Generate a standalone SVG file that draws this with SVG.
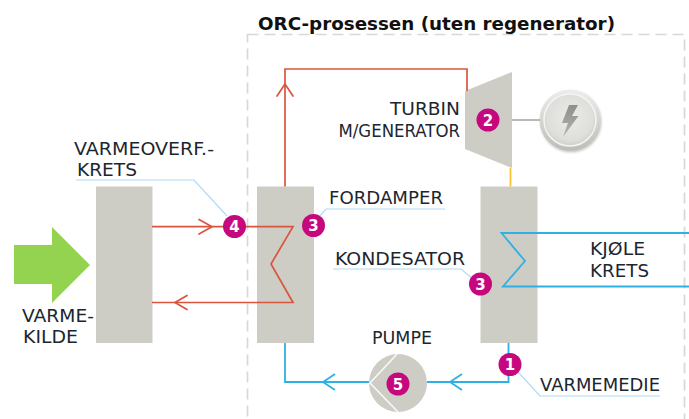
<svg xmlns="http://www.w3.org/2000/svg" width="689" height="419" viewBox="0 0 689 419">
<defs>
<radialGradient id="g" cx="0.5" cy="0.45" r="0.55"><stop offset="0" stop-color="#ebebe8"/><stop offset="0.8" stop-color="#dededb"/><stop offset="1" stop-color="#cfcfcb"/></radialGradient>
<linearGradient id="rim" x1="0" y1="0" x2="0" y2="1"><stop offset="0" stop-color="#ededeb"/><stop offset="1" stop-color="#bdbdb8"/></linearGradient>
<linearGradient id="bolt" x1="0" y1="0" x2="0" y2="1"><stop offset="0" stop-color="#8e8e8a"/><stop offset="1" stop-color="#b4b4b0"/></linearGradient>
<filter id="s" x="-20%" y="-20%" width="140%" height="140%"><feGaussianBlur stdDeviation="1.500"/></filter>
</defs>
<style>
text{font-family:"DejaVu Sans",sans-serif;font-size:17.500px;fill:#1c2630}
.b{fill:#cdcdc5}
.r{fill:none;stroke:#d9553e;stroke-width:1.700}
.c{fill:none;stroke:#2fb0e4;stroke-width:1.800}
.l{fill:none;stroke:#b0daf5;stroke-width:1.200}
.m{fill:#c6087f}
text.n{fill:#fff;font-size:15px;font-weight:700;text-anchor:middle}
text.t{font-weight:700;font-size:18px;fill:#111}
</style>
<rect x="247.500" y="34.500" width="437" height="400" fill="none" stroke="#d8d8d4" stroke-width="1.700" stroke-dasharray="11 6"/>
<text class="t" x="258" y="30" textLength="357" lengthAdjust="spacingAndGlyphs">ORC-prosessen (uten regenerator)</text>

<g id="varmekilde"><path d="M14 245H52V227L90 265L52 303V284H14Z" fill="#93d350"/><text x="22" y="321.500" textLength="72" lengthAdjust="spacingAndGlyphs">VARME-</text><text x="23" y="343" textLength="55" lengthAdjust="spacingAndGlyphs">KILDE</text></g>
<g id="varmeveksler"><rect class="b" x="96" y="186.500" width="56.500" height="156.500"/></g>
<g id="fordamper"><rect class="b" x="257" y="186.500" width="57" height="156.500"/></g>
<g id="kondensator"><rect class="b" x="480.500" y="186.500" width="57" height="156.500"/></g>
<g id="turbin"><path class="b" d="M465 91L512 72V168L465 149Z"/></g>
<g id="generator">
<circle cx="571" cy="122" r="30" fill="#999" filter="url(#s)" opacity="0.7"/>
<circle cx="570" cy="120" r="30.500" fill="url(#rim)"/>
<circle cx="570" cy="120" r="26" fill="url(#g)" stroke="#f4f4f2" stroke-width="1.500"/>
<path d="M569 105H578L572 116H578.500L563 137L568 123H562Z" fill="url(#bolt)"/>
</g>
<g id="pumpe"><circle class="b" cx="398" cy="383" r="29"/><path d="M398 353L370 383L398 412" fill="none" stroke="#fff" stroke-width="1.500" opacity="0.9"/></g>

<g id="connectors">
<path class="r" d="M152 226.700H293L271 264L293 302.500H152"/>
<path class="r" d="M285 186.500V69H467V91"/>
<path class="r" d="M199 219.500L212 226.700L199 234M187 295.500L175 302.500L187 309.500M277 96L285 84L293 96" stroke-linecap="round" stroke-linejoin="round"/>
<path d="M510.500 168V186.500" fill="none" stroke="#f8c42e" stroke-width="1.800"/>
<path d="M512 120H540" fill="none" stroke="#a3a39d" stroke-width="1.500"/>
<path class="c" d="M689 233H501.500L525 261L503 286.500H689"/>
<path class="c" d="M508.500 343V382H427M369 382H285V343"/>
<path class="c" d="M335 374L323 382L335 390M462 374L450 382L462 390"/>
<path class="l" d="M76 180H194L227 216"/>
<path class="l" d="M445 209H326L319 217"/>
<path class="l" d="M333 269H461L472 278"/>
<path class="l" d="M518 372L540 396H660"/>
</g>

<g id="labels">
<text x="74" y="155" textLength="140" lengthAdjust="spacingAndGlyphs">VARMEOVERF.-</text><text x="77" y="176" textLength="60" lengthAdjust="spacingAndGlyphs">KRETS</text>
<text x="329" y="204" textLength="114" lengthAdjust="spacingAndGlyphs">FORDAMPER</text>
<text x="335" y="265" textLength="130" lengthAdjust="spacingAndGlyphs">KONDESATOR</text>
<text x="372" y="344" textLength="60" lengthAdjust="spacingAndGlyphs">PUMPE</text>
<text x="540" y="391" textLength="120" lengthAdjust="spacingAndGlyphs">VARMEMEDIE</text>
<text x="590" y="255" textLength="55" lengthAdjust="spacingAndGlyphs">KJØLE</text><text x="590" y="277" textLength="59" lengthAdjust="spacingAndGlyphs">KRETS</text>
<text x="390" y="114.500" textLength="70" lengthAdjust="spacingAndGlyphs">TURBIN</text><text x="338.500" y="137" textLength="121.500" lengthAdjust="spacingAndGlyphs">M/GENERATOR</text>
</g>

<g id="markers">
<circle class="m" cx="234.500" cy="226.500" r="11.500"/><text class="n" x="234.500" y="232">4</text>
<circle class="m" cx="313.500" cy="225.500" r="11.500"/><text class="n" x="313.500" y="231">3</text>
<circle class="m" cx="480.500" cy="284" r="11.500"/><text class="n" x="480.500" y="289.500">3</text>
<circle class="m" cx="488" cy="120" r="11.500"/><text class="n" x="488" y="125.500">2</text>
<circle class="m" cx="510" cy="364.500" r="11.500"/><text class="n" x="510" y="370">1</text>
<circle class="m" cx="398" cy="384" r="11.500"/><text class="n" x="398" y="389.500">5</text>
</g>
</svg>
